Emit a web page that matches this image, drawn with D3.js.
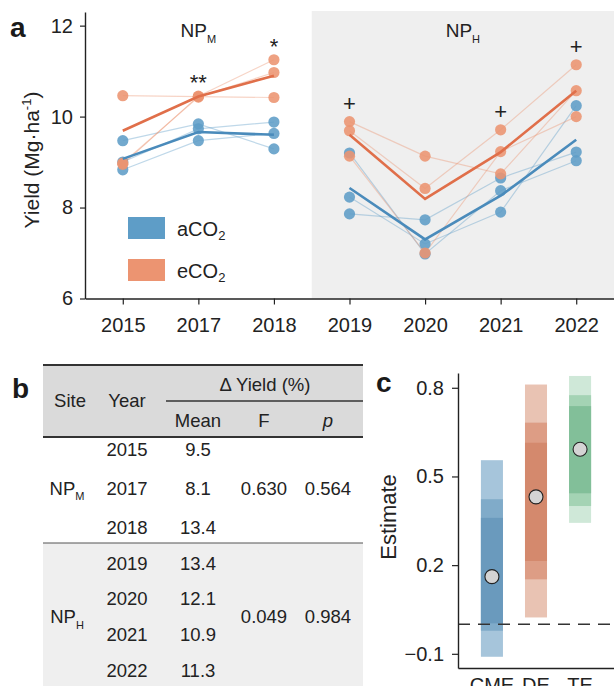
<!DOCTYPE html>
<html>
<head>
<meta charset="utf-8">
<script src="https://cdn.jsdelivr.net/npm/d3@7"></script>
<style>
  body { margin: 0; background: #fff; }
  svg { display: block; font-family: "Liberation Sans", Arial, sans-serif; }
</style>
</head>
<body>
<script>
// panel a: yield per year, three plots per treatment
var years = ["2015", "2017", "2018", "2019", "2020", "2021", "2022"];
var siteOf = ["M", "M", "M", "H", "H", "H", "H"];

var aRep1 = [9.47, 9.84, 9.29, 9.20, 6.98, 8.37, 9.03];
var aRep2 = [9.00, 9.73, 9.88, 8.23, 7.20, 7.90, 10.24];
var aRep3 = [8.83, 9.47, 9.63, 7.86, 7.73, 8.65, 9.22];
var aMean = [9.07, 9.66, 9.60, 8.43, 7.30, 8.26, 9.49];

var eRep1 = [10.46, 10.44, 10.42, 9.89, 9.13, 8.74, 10.57];
var eRep2 = [8.95, 10.45, 11.25, 9.69, 8.42, 9.71, 11.14];
var eRep3 = [8.98, 10.43, 10.97, 9.13, 7.00, 9.23, 10.00];
var eMean = [9.69, 10.44, 10.90, 9.60, 8.19, 9.22, 10.57];

var sigMarks = ["", "**", "*", "+", "", "+", "+"];
var yTicks = [6, 8, 10, 12];

// panel b: table
var tableSites = ["M", "H"];
var deltaMean = [9.5, 8.1, 13.4, 13.4, 12.1, 10.9, 11.3];
var siteF = ["0.630", "0.049"];
var siteP = ["0.564", "0.984"];

// panel c: effect estimates with nested intervals
var effects = ["CME", "DE", "TE"];
var estimate = [0.161, 0.431, 0.592];
var innerLo = [0.003, 0.214, 0.443], innerHi = [0.360, 0.614, 0.738];
var midLo = [-0.022, 0.152, 0.400], midHi = [0.423, 0.682, 0.775];
var outerLo = [-0.110, 0.023, 0.343], outerHi = [0.555, 0.811, 0.840];
var cTicks = [-0.1, 0.2, 0.5, 0.8];

var blue = "#5e9dc7", orange = "#ec9471";
var blueLine = "#4a8bbb", orangeLine = "#e06f4a";
var effColors = [["#a6c5db", "#80abc9", "#6a9abd"],
                 ["#e9c3b3", "#dd9d85", "#d4896d"],
                 ["#cfe8d8", "#a4d3b4", "#82bf99"]];

var svg = d3.select("body").append("svg")
    .attr("width", 614)
    .attr("height", 686);

/* ---------- panel a ---------- */
var x = d3.scalePoint().domain(years).range([85, 614]).padding(0.5);
var y = d3.scaleLinear().domain([6, 12.3]).range([298.5, 12]);

var midX = (x("2018") + x("2019")) / 2;
svg.append("rect")
    .attr("x", midX).attr("y", y(12.3) - 1)
    .attr("width", 614 - midX).attr("height", y(6) - y(12.3) + 1)
    .attr("fill", "#efefef");

function bySite(vals) {
  return tableSites.map(function(s) {
    return years.map(function(yr, i) { return {year: yr, v: vals[i], site: siteOf[i]}; })
      .filter(function(d) { return d.site === s; });
  });
}

var line = d3.line()
    .x(function(d) { return x(d.year); })
    .y(function(d) { return y(d.v); });

var groups = [
  {reps: [aRep1, aRep2, aRep3], mean: aMean, col: blue, lineCol: blueLine},
  {reps: [eRep1, eRep2, eRep3], mean: eMean, col: orange, lineCol: orangeLine}
];

// thin plot lines
groups.forEach(function(g) {
  g.reps.forEach(function(r) {
    svg.selectAll(null).data(bySite(r)).enter().append("path")
        .attr("d", line)
        .attr("fill", "none")
        .attr("stroke", g.col)
        .attr("stroke-width", 1.2)
        .attr("stroke-opacity", 0.4);
  });
});

// dots
groups.forEach(function(g) {
  g.reps.forEach(function(r) {
    svg.selectAll(null).data(r).enter().append("circle")
        .attr("cx", function(d, i) { return x(years[i]); })
        .attr("cy", function(d) { return y(d); })
        .attr("r", 5.6)
        .attr("fill", g.col)
        .attr("fill-opacity", 0.88);
  });
});

// mean lines
groups.forEach(function(g) {
  svg.selectAll(null).data(bySite(g.mean)).enter().append("path")
      .attr("d", line)
      .attr("fill", "none")
      .attr("stroke", g.lineCol)
      .attr("stroke-width", 2.6);
});

// significance marks above the highest eCO2 plot
svg.selectAll(null).data(sigMarks).enter().append("text")
    .attr("x", function(d, i) { return x(years[i]); })
    .attr("y", function(d, i) {
      var top = d3.max([eRep1[i], eRep2[i], eRep3[i]]);
      return y(top) - (d.indexOf("*") >= 0 ? 6 : 11);
    })
    .attr("text-anchor", "middle")
    .style("font-size", "22px")
    .attr("fill", "#222")
    .text(function(d) { return d; });

// axes
var yAxis = svg.append("g")
    .attr("transform", "translate(85,0)")
    .call(d3.axisLeft(y).tickValues(yTicks).tickFormat(d3.format("d"))
      .tickSize(5).tickSizeOuter(0).tickPadding(7));
var xAxis = svg.append("g")
    .attr("transform", "translate(0," + y(6) + ")")
    .call(d3.axisBottom(x).tickSize(6).tickSizeOuter(0).tickPadding(13));
[yAxis, xAxis].forEach(function(ax) {
  ax.select(".domain").attr("stroke", "#222").attr("stroke-width", 1.4);
  ax.selectAll(".tick line").attr("stroke", "#222").attr("stroke-width", 1.2);
  ax.selectAll(".tick text").style("font-size", "20px").attr("fill", "#222")
      .style("font-family", "Liberation Sans, Arial, sans-serif");
});

// site labels
function siteLabel(sel, sub, cx, yy, size, subSize) {
  var t = sel.append("text")
      .attr("x", cx).attr("y", yy)
      .attr("text-anchor", "middle")
      .attr("fill", "#222")
      .style("font-size", size + "px");
  t.append("tspan").text("NP");
  t.append("tspan").attr("dy", size * 0.3).style("font-size", subSize + "px").text(sub);
  return t;
}
["M", "H"].forEach(function(s) {
  var xs = years.filter(function(yr, i) { return siteOf[i] === s; }).map(x);
  siteLabel(svg, s, d3.mean(xs), 37, 19, 11);
});

// legend
var legend = svg.append("g");
[["a", blue], ["e", orange]].forEach(function(l, i) {
  legend.append("rect")
      .attr("x", 128).attr("y", 217 + i * 42)
      .attr("width", 37).attr("height", 22)
      .attr("fill", l[1]);
  var t = legend.append("text")
      .attr("x", 177).attr("y", 236 + i * 42)
      .attr("fill", "#222")
      .style("font-size", "20px");
  t.append("tspan").text(l[0] + "CO");
  t.append("tspan").attr("dy", 4).style("font-size", "13px").text("2");
});

// y title
var yt = svg.append("text")
    .attr("transform", "translate(39,160) rotate(-90)")
    .attr("text-anchor", "middle")
    .attr("fill", "#222")
    .style("font-size", "21px");
yt.append("tspan").text("Yield (Mg·ha");
yt.append("tspan").attr("dy", -8).style("font-size", "13px").text("-1");
yt.append("tspan").attr("dy", 8).text(")");

/* ---------- panel b ---------- */
var tb = svg.append("g");
var tL = 43, tR = 363;
var colX = {site: 70, year: 127, mean: 198, f: 264, p: 328};

tb.append("rect").attr("x", tL).attr("y", 365).attr("width", tR - tL).attr("height", 72).attr("fill", "#dadada");
tb.append("rect").attr("x", tL).attr("y", 543).attr("width", tR - tL).attr("height", 150).attr("fill", "#efefef");
tb.append("line").attr("x1", tL).attr("x2", tR).attr("y1", 365).attr("y2", 365).attr("stroke", "#333").attr("stroke-width", 2);
tb.append("line").attr("x1", tL).attr("x2", tR).attr("y1", 437).attr("y2", 437).attr("stroke", "#333").attr("stroke-width", 2);
tb.append("line").attr("x1", 166).attr("x2", tR).attr("y1", 401).attr("y2", 401).attr("stroke", "#333").attr("stroke-width", 1.4);
tb.append("line").attr("x1", tL).attr("x2", tR).attr("y1", 543).attr("y2", 543).attr("stroke", "#555").attr("stroke-width", 1.2);

function cell(txt, cx, cy, italic) {
  return tb.append("text")
      .attr("x", cx).attr("y", cy)
      .attr("text-anchor", "middle")
      .attr("dominant-baseline", "central")
      .attr("fill", "#222")
      .style("font-size", "18.5px")
      .style("font-style", italic ? "italic" : "normal")
      .text(txt);
}
cell("Site", colX.site, 400);
cell("Year", colX.year, 400);
cell("Δ Yield (%)", 265, 384);
cell("Mean", colX.mean, 420);
cell("F", colX.f, 420);
cell("p", colX.p, 420, true);

var rowY = {
  M: d3.scalePoint().domain(years.slice(0, 3)).range([449, 527]),
  H: d3.scalePoint().domain(years.slice(3)).range([563, 670])
};
years.forEach(function(yr, i) {
  var ry = rowY[siteOf[i]](yr);
  cell(yr, colX.year, ry);
  cell(deltaMean[i].toFixed(1), colX.mean, ry);
});
tableSites.forEach(function(s, k) {
  var yrs = years.filter(function(yr, i) { return siteOf[i] === s; });
  var sc = rowY[s];
  var cy = d3.mean(yrs, sc);
  if (s === "H") cy = (sc(yrs[1]) + sc(yrs[2])) / 2;
  cell(siteF[k], colX.f, cy);
  cell(siteP[k], colX.p, cy);
  siteLabel(tb, s, colX.site - 3, cy + 6.5, 18.5, 11);
});

/* ---------- panel c ---------- */
var xc = d3.scaleBand().domain(effects).range([458, 614]).paddingInner(0.5).paddingOuter(0.52);
var yc = d3.scaleLinear().domain([-0.148, 0.85]).range([668, 373]);

var levels = [[outerLo, outerHi], [midLo, midHi], [innerLo, innerHi]];
levels.forEach(function(lv, k) {
  svg.selectAll(null).data(effects).enter().append("rect")
      .attr("x", function(d) { return xc(d); })
      .attr("width", xc.bandwidth())
      .attr("y", function(d, i) { return yc(lv[1][i]); })
      .attr("height", function(d, i) { return yc(lv[0][i]) - yc(lv[1][i]); })
      .attr("fill", function(d, i) { return effColors[i][k]; });
});

svg.append("line")
    .attr("x1", 458).attr("x2", 614)
    .attr("y1", yc(0)).attr("y2", yc(0))
    .attr("stroke", "#333").attr("stroke-width", 1.3)
    .attr("stroke-dasharray", "12,8");

svg.selectAll(null).data(estimate).enter().append("circle")
    .attr("cx", function(d, i) { return xc(effects[i]) + xc.bandwidth() / 2; })
    .attr("cy", function(d) { return yc(d); })
    .attr("r", 7)
    .attr("fill", "#d4d4d4")
    .attr("stroke", "#222")
    .attr("stroke-width", 1.1);

var ycAxis = svg.append("g")
    .attr("transform", "translate(458,0)")
    .call(d3.axisLeft(yc).tickValues(cTicks).tickFormat(d3.format(".1f")).tickSize(6).tickSizeOuter(0).tickPadding(8));
var xcAxis = svg.append("g")
    .attr("transform", "translate(0,668)")
    .call(d3.axisBottom(xc).tickSize(0).tickPadding(10));
[ycAxis, xcAxis].forEach(function(ax) {
  ax.select(".domain").attr("stroke", "#222").attr("stroke-width", 1.4);
  ax.selectAll(".tick line").attr("stroke", "#222").attr("stroke-width", 1.2);
  ax.selectAll(".tick text").style("font-size", "20px").attr("fill", "#222")
      .style("font-family", "Liberation Sans, Arial, sans-serif");
});

svg.append("text")
    .attr("transform", "translate(396,517) rotate(-90)")
    .attr("text-anchor", "middle")
    .attr("fill", "#222")
    .style("font-size", "22px")
    .text("Estimate");

// panel letters
[["a", 10, 37], ["b", 12, 398], ["c", 376, 392]].forEach(function(p) {
  svg.append("text")
      .attr("x", p[1]).attr("y", p[2])
      .style("font-size", "28px")
      .style("font-weight", "bold")
      .attr("fill", "#1a1a1a")
      .text(p[0]);
});
</script>
</body>
</html>
